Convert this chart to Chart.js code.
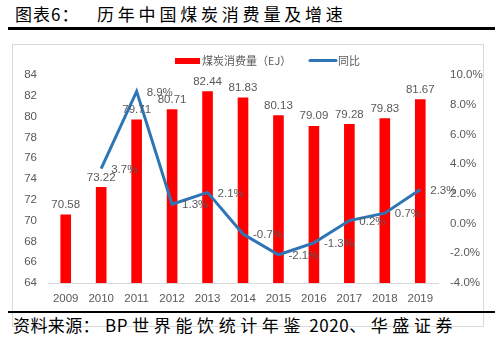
<!DOCTYPE html>
<html>
<head>
<meta charset="utf-8">
<script src="https://cdn.jsdelivr.net/npm/chart.js@4/dist/chart.umd.min.js"></script>
<style>
  html, body { margin: 0; padding: 0; background: #fff; }
  #wrap { position: relative; width: 499px; height: 349px; overflow: hidden; background: #fff; }
  #box { position: absolute; left: 12px; top: 44px; width: 470px; height: 281px; border: 1px solid #D9D9D9; }
  #title { position: absolute; left: 15px; top: 3px; font-family: "Noto Sans CJK SC", sans-serif; font-size: 17px; line-height: 22px; color: #000; white-space: nowrap; }
  #title .a { letter-spacing: 1px; }
  #title .b { position: absolute; left: 82px; top: 0; letter-spacing: 3.8px; }
  #rule1 { position: absolute; left: 8px; top: 27px; width: 487px; height: 3px; background: #000; }
  #rule2 { position: absolute; left: 8px; top: 311px; width: 487px; height: 2px; background: #000; }
  .src { position: absolute; top: 314px; font-family: "Noto Sans CJK SC", sans-serif; font-size: 17px; line-height: 22px; color: #000; white-space: nowrap; }
  #src1 { left: 13px; letter-spacing: 0.4px; }
  #src2 { left: 105px; }
  #src2 .l { letter-spacing: 0.5px; }
  #src2 .c { letter-spacing: 4.6px; }
  canvas { position: absolute; left: 0; top: 0; }
</style>
</head>
<body>
<div id="wrap">
  <div id="box"></div>
  <div id="title"><span class="a">图表6：</span><span class="b">历年中国煤炭消费量及增速</span></div>
  <div id="rule1"></div>
  <div id="rule2"></div>
  <div class="src" id="src1">资料来源：</div>
  <div class="src" id="src2"><span class="l">BP </span><span class="c">世界能饮统计年鉴</span><span class="l"> 2020</span><span class="c">、华盛证券</span></div>
  <canvas id="c" width="499" height="349"></canvas>
</div>
<script>
const years = ["2009","2010","2011","2012","2013","2014","2015","2016","2017","2018","2019"];
const consumption = [70.58, 73.22, 79.71, 80.71, 82.44, 81.83, 80.13, 79.09, 79.28, 79.83, 81.67];
const growth = [null, 3.7, 8.9, 1.3, 2.1, -0.7, -2.1, -1.3, 0.2, 0.7, 2.3];
const barLabel = "煤炭消费量（EJ）";
const lineLabel = "同比";

const GRAY = "#595959";
const TICK_FONT = { family: "'Liberation Sans', Arial, sans-serif", size: 11.5 };

const labelPlugin = {
  id: "valueLabels",
  afterDatasetsDraw(chart) {
    const ctx = chart.ctx;
    ctx.save();
    ctx.font = "11.5px 'Liberation Sans', Arial, sans-serif";
    ctx.fillStyle = GRAY;
    const barMeta = chart.getDatasetMeta(0);
    barMeta.data.forEach((el, i) => {
      ctx.textAlign = "center";
      ctx.textBaseline = "bottom";
      ctx.fillText(consumption[i].toFixed(2), el.x, el.y - 4);
    });
    const lineMeta = chart.getDatasetMeta(1);
    lineMeta.data.forEach((el, i) => {
      if (growth[i] === null) return;
      ctx.textAlign = "left";
      ctx.textBaseline = "middle";
      ctx.fillText(growth[i].toFixed(1) + "%", el.x + 10, el.y + 1);
    });
    ctx.restore();
  }
};

const legendPlugin = {
  id: "customLegend",
  afterDraw(chart) {
    const ctx = chart.ctx;
    ctx.save();
    const y = 60.5;
    ctx.fillStyle = "#FF0000";
    ctx.fillRect(175, 58, 25, 6);
    ctx.font = "11px 'Noto Sans CJK SC', sans-serif";
    ctx.fillStyle = GRAY;
    ctx.textAlign = "left";
    ctx.textBaseline = "middle";
    ctx.fillText(barLabel, 202, y);
    ctx.strokeStyle = "#2E75B6";
    ctx.lineWidth = 3;
    ctx.lineCap = "round";
    ctx.beginPath();
    ctx.moveTo(310, y);
    ctx.lineTo(336, y);
    ctx.stroke();
    ctx.fillText(lineLabel, 338, y);
    ctx.restore();
  }
};

new Chart(document.getElementById("c"), {
  data: {
    labels: years,
    datasets: [
      {
        type: "bar",
        label: barLabel,
        data: consumption,
        yAxisID: "yL",
        backgroundColor: "#FF0000",
        barPercentage: 0.3,
        categoryPercentage: 1.0,
        order: 1
      },
      {
        type: "line",
        label: lineLabel,
        data: growth,
        yAxisID: "yR",
        borderColor: "#2E75B6",
        borderWidth: 3,
        pointRadius: 0,
        tension: 0,
        fill: false,
        order: 0
      }
    ]
  },
  options: {
    responsive: false,
    animation: false,
    devicePixelRatio: 1,
    layout: { padding: { top: 75, bottom: 0, left: 0, right: 0 } },
    plugins: { legend: { display: false }, tooltip: { enabled: false } },
    scales: {
      x: {
        grid: { display: false, drawTicks: false },
        border: { display: true, color: "#D9D9D9", width: 1 },
        ticks: { color: GRAY, font: TICK_FONT, padding: 9, maxRotation: 0 },
        afterFit(s) { s.height = 66; }
      },
      yL: {
        position: "left",
        min: 64, max: 84,
        grid: { display: false, drawTicks: false },
        border: { display: false },
        ticks: { stepSize: 2, color: GRAY, font: TICK_FONT, padding: 11 },
        afterFit(s) { s.width = 48; }
      },
      yR: {
        position: "right",
        min: -4, max: 10,
        grid: { display: false, drawTicks: false },
        border: { display: false },
        ticks: { stepSize: 2, color: GRAY, font: TICK_FONT, padding: 12,
          callback: v => v.toFixed(1) + "%" },
        afterFit(s) { s.width = 61; }
      }
    }
  },
  plugins: [labelPlugin, legendPlugin]
});
</script>
</body>
</html>
